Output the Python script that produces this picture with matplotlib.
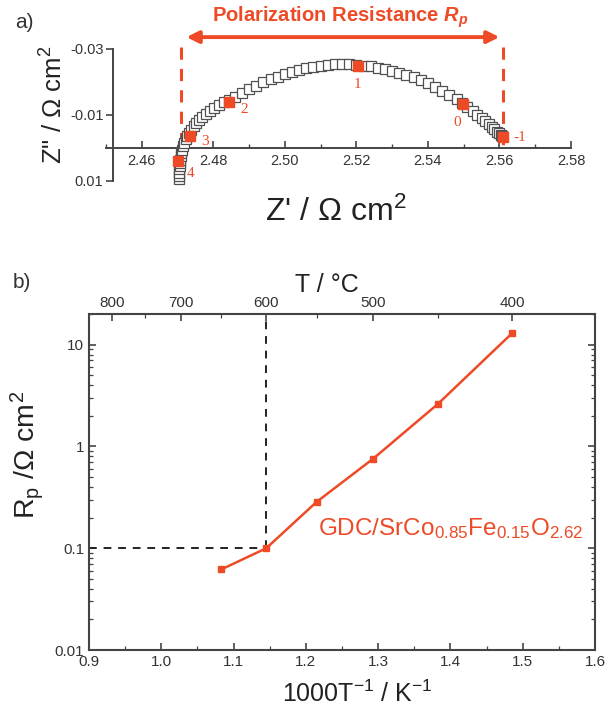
import matplotlib
matplotlib.use('Agg')
import matplotlib.pyplot as plt
from matplotlib.ticker import FixedLocator, LogLocator, NullFormatter, MultipleLocator
import numpy as np

plt.rcParams['font.family'] = ['Liberation Sans', 'DejaVu Sans']
plt.rcParams['mathtext.default'] = 'regular'
plt.rcParams['mathtext.fontset'] = 'custom'
plt.rcParams['mathtext.it'] = 'Liberation Sans:italic:bold'
plt.rcParams['axes.unicode_minus'] = False

RED = '#ee4a26'
GREY = '#444444'

# ---- panel a: impedance spectrum (Z' , Z'') ----
z_re = [2.4703, 2.4703, 2.4704, 2.4705, 2.4706, 2.4707, 2.4708, 2.4709, 2.4711,
        2.4713, 2.4716, 2.4719, 2.4723, 2.4727, 2.4732, 2.4738, 2.4745, 2.4752,
        2.4760, 2.4769, 2.4779, 2.4790, 2.4802, 2.4815, 2.4829, 2.4845, 2.4860,
        2.4880, 2.4900, 2.4920, 2.4940, 2.4960, 2.4980, 2.5000, 2.5020, 2.5040,
        2.5060, 2.5080, 2.5100, 2.5120, 2.5140, 2.5160, 2.5180, 2.5200, 2.5220,
        2.5240, 2.5260, 2.5280, 2.5300, 2.5320, 2.5340, 2.5360, 2.5380, 2.5400,
        2.5420, 2.5440, 2.5460, 2.5480, 2.5495, 2.5510, 2.5525, 2.5538, 2.5550,
        2.5560, 2.5570, 2.5578, 2.5585, 2.5592, 2.5598, 2.5603, 2.5606, 2.5608]
z_im = [0.0095, 0.0085, 0.0075, 0.0065, 0.0055, 0.0045, 0.0035, 0.0025, 0.0015,
        0.0005, -0.0006, -0.0016, -0.0026, -0.0036, -0.0046, -0.0056, -0.0066, -0.0076,
        -0.0085, -0.0094, -0.0103, -0.0112, -0.0121, -0.0130, -0.0138, -0.0146, -0.0154,
        -0.0166, -0.0178, -0.0189, -0.0199, -0.0208, -0.0216, -0.0224, -0.0231, -0.0237,
        -0.0242, -0.0246, -0.0250, -0.0253, -0.0255, -0.0255, -0.0254, -0.0252, -0.0250,
        -0.0247, -0.0243, -0.0239, -0.0234, -0.0228, -0.0222, -0.0214, -0.0206, -0.0196,
        -0.0186, -0.0174, -0.0161, -0.0147, -0.0136, -0.0124, -0.0112, -0.0100, -0.0090,
        -0.0081, -0.0072, -0.0064, -0.0057, -0.0050, -0.0045, -0.0040, -0.0037, -0.0035]

# marked frequencies (log10 f / Hz)
f_labels = ['4', '3', '2', '1', '0', '-1']
f_re = [2.4702, 2.4734, 2.4845, 2.5204, 2.5497, 2.5609]
f_im = [0.0038, -0.0036, -0.0138, -0.0248, -0.0133, -0.0032]

rp_left, rp_right = 2.4709, 2.5609

# ---- panel b: Rp vs 1000/T ----
temp_c = [650, 600, 550, 500, 450, 400]
rp = [0.062, 0.100, 0.285, 0.76, 2.62, 13.0]
top_major = [800, 700, 600, 500, 400]
top_minor = [750, 650, 550, 450]
t_ref = 600
rp_ref = 0.1


def inv_t(t):
    return 1000.0 / (np.asarray(t, dtype=float) + 273.15)


fig = plt.figure(figsize=(6.08, 7.15), dpi=100)

# ------------------------------------------------ panel a
ax1 = fig.add_axes([106 / 608, 1 - 181 / 715, 465 / 608, 132 / 715])
ax1.set_xlim(2.45, 2.58)
ax1.set_ylim(0.01, -0.03)
ax1.plot(z_re, z_im, ls='none', marker='s', ms=7, mfc='white', mec='#505050',
         mew=0.9, zorder=3, clip_on=False)
ax1.plot(f_re, f_im, ls='none', marker='s', ms=7.5, mfc=RED, mec=RED,
         zorder=4, clip_on=False)
offsets = [(9, -9), (11, -4), (11, -5), (0, -13), (-4, -13), (12, 0)]
for lab, x, y, (dx, dy) in zip(f_labels, f_re, f_im, offsets):
    ax1.annotate(lab, (x, y), xytext=(dx, dy), textcoords='offset points',
                 ha='center', va='center', color=RED, fontsize=11,
                 family='Liberation Serif', zorder=5)

for xv in (rp_left, rp_right):
    ax1.plot([xv, xv], [-0.0305, 0.0], color=RED, lw=2.2, ls=(0, (4, 3)),
             clip_on=False, zorder=2)
ax1.annotate('', xy=(rp_left + 0.0016, -0.0336), xytext=(rp_right - 0.0009, -0.0336),
             xycoords='data', annotation_clip=False,
             arrowprops=dict(arrowstyle='<|-|>', color=RED, lw=2.8,
                             mutation_scale=18, shrinkA=0, shrinkB=0))
ax1.text((rp_left + rp_right) / 2 - 0.0005, -0.0395,
         r'Polarization Resistance $\mathit{R_p}$', color=RED, fontsize=14.5,
         fontweight='bold', ha='center', va='center', clip_on=False)

for s in ('top', 'right'):
    ax1.spines[s].set_visible(False)
ax1.spines['bottom'].set_position(('data', 0.0))
ax1.spines['left'].set_position(('data', 2.452))
ax1.spines['left'].set_bounds(-0.03, 0.01)
for s in ('bottom', 'left'):
    ax1.spines[s].set_color(GREY)
    ax1.spines[s].set_linewidth(1.4)
ax1.set_yticks([-0.03, -0.01, 0.01])
ax1.set_yticklabels(['-0.03', '-0.01', '0.01'])
ax1.set_xticks(np.round(np.arange(2.46, 2.581, 0.02), 2))
ax1.set_xticklabels(['2.46', '2.48', '2.50', '2.52', '2.54', '2.56', '2.58'])
ax1.xaxis.set_minor_locator(MultipleLocator(0.01))
ax1.tick_params(axis='x', direction='in', length=5, width=1.2, color=GREY,
                labelsize=10.5, labelcolor='#333333', pad=4)
ax1.tick_params(axis='x', which='minor', direction='in', length=3, width=1.0, color=GREY)
ax1.tick_params(axis='y', direction='out', length=5, width=1.2, color=GREY,
                labelsize=10.5, labelcolor='#333333', pad=2)
ax1.set_xlabel(r"Z' / Ω cm$^2$", fontsize=23, color='#222222')
ax1.xaxis.set_label_coords(0.495, -0.12)
ax1.set_ylabel('Z" / Ω cm$^2$', fontsize=18.5, color='#222222')
ax1.yaxis.set_label_coords(-0.082, 0.575)
fig.text(15 / 608, 1 - 22 / 715, 'a)', fontsize=15, color='#333333', va='center')

# ------------------------------------------------ panel b
ax2 = fig.add_axes([89 / 608, 65 / 715, 506 / 608, 336 / 715])
x_b = inv_t(temp_c)
ax2.plot(x_b, rp, color=RED, lw=1.8, marker='s', ms=5, zorder=3)
x_ref = inv_t(t_ref)
ax2.plot([x_ref, x_ref], [rp_ref, 20], color='#222222', lw=1.4, ls=(0, (4, 3.5)), zorder=2)
ax2.plot([0.9, x_ref], [rp_ref, rp_ref], color='#222222', lw=1.4, ls=(0, (4, 3.5)), zorder=2)
ax2.set_yscale('log')
ax2.set_xlim(0.9, 1.6)
ax2.set_ylim(0.01, 20)
ax2.xaxis.set_major_locator(MultipleLocator(0.1))
ax2.xaxis.set_minor_locator(MultipleLocator(0.05))
ax2.set_xticklabels([f'{v:.1f}' for v in ax2.get_xticks()])
ax2.yaxis.set_major_locator(FixedLocator([0.01, 0.1, 1, 10]))
ax2.set_yticklabels(['0.01', '0.1', '1', '10'])
ax2.yaxis.set_minor_locator(LogLocator(base=10, subs=np.arange(2, 10)))
ax2.yaxis.set_minor_formatter(NullFormatter())
ax2.tick_params(which='both', direction='in', color=GREY, right=True,
                labelsize=11, labelcolor='#333333')
ax2.tick_params(which='major', length=5, width=1.2)
ax2.tick_params(which='minor', length=3, width=0.9)
for s in ax2.spines.values():
    s.set_color(GREY)
    s.set_linewidth(1.5)
ax2.set_xlabel(r'1000T$^{-1}$ / K$^{-1}$', fontsize=18, color='#222222')
ax2.xaxis.set_label_coords(0.53, -0.09)
ax2.set_ylabel(r'R$_p$ /Ω cm$^2$', fontsize=20.5, color='#222222')
ax2.yaxis.set_label_coords(-0.085, 0.58)
ax2.text(1.217, 0.155, r'GDC/SrCo$_{0.85}$Fe$_{0.15}$O$_{2.62}$', color=RED,
         fontsize=17.5, ha='left', va='center')

top = ax2.twiny()
top.set_xlim(ax2.get_xlim())
top.set_xticks(inv_t(top_major))
top.set_xticklabels([str(t) for t in top_major])
top.set_xticks(inv_t(top_minor), minor=True)
top.tick_params(which='both', direction='in', color=GREY, labelsize=11,
                labelcolor='#333333', pad=3)
top.tick_params(which='major', length=5, width=1.2)
top.tick_params(which='minor', length=3, width=0.9)
for s in top.spines.values():
    s.set_visible(False)
top.set_xlabel('T / °C', fontsize=18, color='#222222')
top.xaxis.set_label_coords(0.47, 1.065)
fig.text(13 / 608, 1 - 283 / 715, 'b)', fontsize=15, color='#333333', va='center')

fig.savefig('out.png', dpi=100)
